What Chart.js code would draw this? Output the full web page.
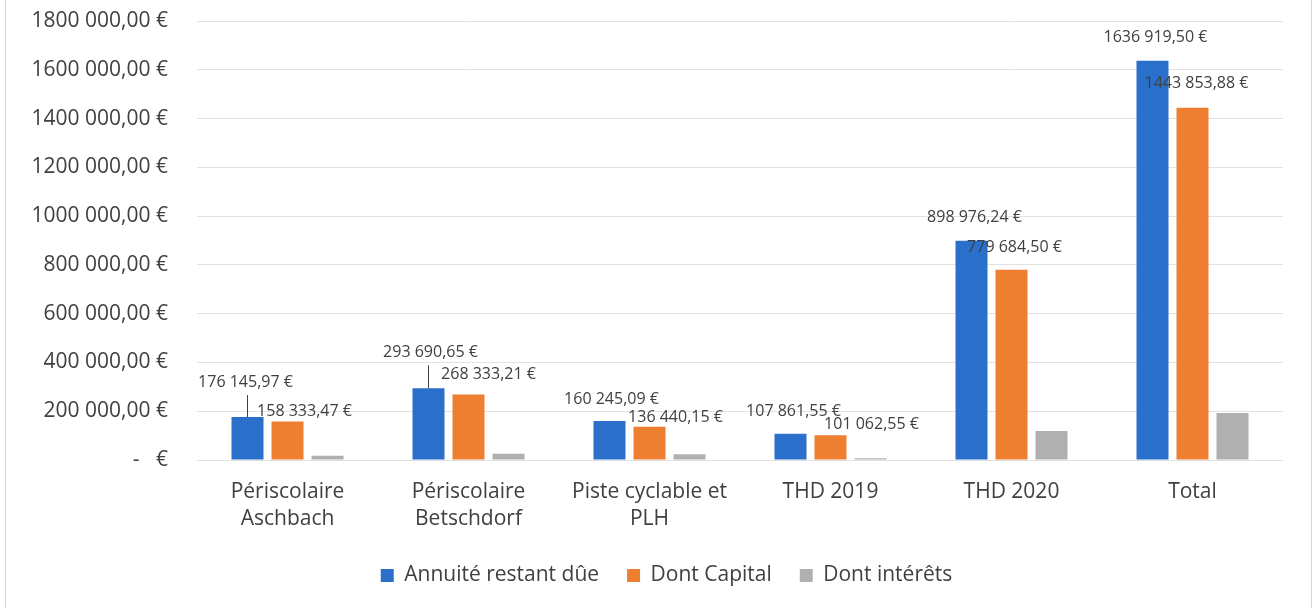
<!DOCTYPE html>
<html>
<head>
<meta charset="utf-8">
<script src="https://cdn.jsdelivr.net/npm/chart.js@4.4.1/dist/chart.umd.min.js"></script>
<style>
    html, body { margin: 0; padding: 0; background: #fff; overflow: hidden; }
    #wrap { position: relative; width: 1316px; height: 608px; overflow: hidden; }
    #frame { position: absolute; left: 5px; top: -2px; width: 1305px; height: 620px; border: 1px solid #d4d4d4; pointer-events: none; }
</style>
</head>
<body>
<div id="wrap">
    <canvas id="canvas" width="1316" height="608"></canvas>
    <div id="frame"></div>
</div>
<script>
// categories and series
var categories = [["Périscolaire", "Aschbach"], ["Périscolaire", "Betschdorf"], ["Piste cyclable et", "PLH"], "THD 2019", "THD 2020", "Total"];
var annuite = [176145.97, 293690.65, 160245.09, 107861.55, 898976.24, 1636919.50];
var capital = [158333.47, 268333.21, 136440.15, 101062.55, 779684.50, 1443853.88];
var interets = [17812.50, 25357.44, 23804.94, 6799.00, 119291.74, 193065.62];
var yTicks = [0, 200000, 400000, 600000, 800000, 1000000, 1200000, 1400000, 1600000, 1800000];

var FONT = "'Open Sans', sans-serif";
var TEXT = "#404040";

// format Excel-like: "1636 919,50 €", zero -> "-   €"
function euro(v) {
    if (v === 0) {
        return "-\u00a0\u00a0\u00a0€";
    }
    var parts = v.toFixed(2).split(".");
    var ent = parts[0];
    if (ent.length > 3) {
        ent = ent.slice(0, ent.length - 3) + " " + ent.slice(ent.length - 3);
    }
    return ent + "," + parts[1] + " €";
}

// manual placement of data labels (dx, dy, leader line), as in the original
var labelOffsets = [
    [[-2, -12, true], [2, -13, true], [2, 2], [3, 1], [3, 0], [3, 0]],
    [[17, 13], [20, 3], [26, 14], [41, 12], [3, 1], [4, -1]]
];

var dataLabels = {
    id: "dataLabels",
    afterDatasetsDraw: function (chart) {
        var ctx = chart.ctx;
        ctx.save();
        ctx.font = "16px " + FONT;
        ctx.fillStyle = TEXT;
        ctx.textAlign = "center";
        ctx.textBaseline = "middle";
        [0, 1].forEach(function (d) {
            var meta = chart.getDatasetMeta(d);
            var values = chart.data.datasets[d].data;
            meta.data.forEach(function (bar, i) {
                var off = labelOffsets[d][i];
                var x = bar.x + off[0];
                var y = bar.y - 23 + off[1];
                if (off[2]) {
                    ctx.strokeStyle = "#404040";
                    ctx.lineWidth = 1;
                    ctx.beginPath();
                    ctx.moveTo(Math.round(bar.x) + 0.5, bar.y);
                    ctx.lineTo(Math.round(bar.x) + 0.5, y + 13);
                    ctx.stroke();
                }
                ctx.fillText(euro(values[i]), x, y);
            });
        });
        ctx.restore();
    }
};

window.onload = function () {
    var ctx = document.getElementById("canvas").getContext("2d");
    window.myBar = new Chart(ctx, {
        type: "bar",
        data: {
            labels: categories,
            datasets: [{
                label: "Annuité restant dûe",
                backgroundColor: "#2a6fc9",
                data: annuite
            }, {
                label: "Dont Capital",
                backgroundColor: "#ef7f30",
                data: capital
            }, {
                label: "Dont intérêts",
                backgroundColor: "#b0b0b0",
                data: interets
            }]
        },
        plugins: [dataLabels],
        options: {
            responsive: false,
            animation: false,
            barPercentage: 0.8,
            categoryPercentage: 0.663,
            layout: {
                padding: { top: 0, right: 0, bottom: 12, left: 17 }
            },
            scales: {
                x: {
                    grid: { display: false },
                    border: { display: false },
                    ticks: {
                        color: TEXT,
                        font: { family: FONT, size: 21, lineHeight: 1.3 },
                        padding: 10,
                        maxRotation: 0,
                        autoSkip: false
                    },
                    afterFit: function (scale) {
                        scale.height = 77;
                    }
                },
                y: {
                    min: 0,
                    max: 1800000,
                    afterBuildTicks: function (scale) {
                        scale.ticks = yTicks.map(function (v) { return { value: v }; });
                    },
                    grid: {
                        color: "#e2e2e2",
                        drawTicks: false
                    },
                    border: { display: false },
                    ticks: {
                        color: TEXT,
                        font: { family: FONT, size: 21 },
                        padding: 29,
                        callback: function (v) { return euro(v); }
                    },
                    afterFit: function (scale) {
                        scale.width = 180;
                        scale.paddingTop = 21;
                        scale.paddingBottom = 0;
                    }
                },
                // empty right margin, keeps the legend centred on the page
                y2: {
                    position: "right",
                    grid: { display: false },
                    border: { display: false },
                    ticks: { display: false },
                    afterFit: function (scale) {
                        scale.width = 33;
                        scale.paddingTop = 0;
                        scale.paddingBottom = 0;
                    }
                }
            },
            plugins: {
                legend: {
                    position: "bottom",
                    labels: {
                        color: TEXT,
                        font: { family: FONT, size: 21 },
                        boxWidth: 13,
                        boxHeight: 13,
                        padding: 28
                    }
                },
                tooltip: { enabled: false }
            }
        }
    });
};
</script>
</body>
</html>
